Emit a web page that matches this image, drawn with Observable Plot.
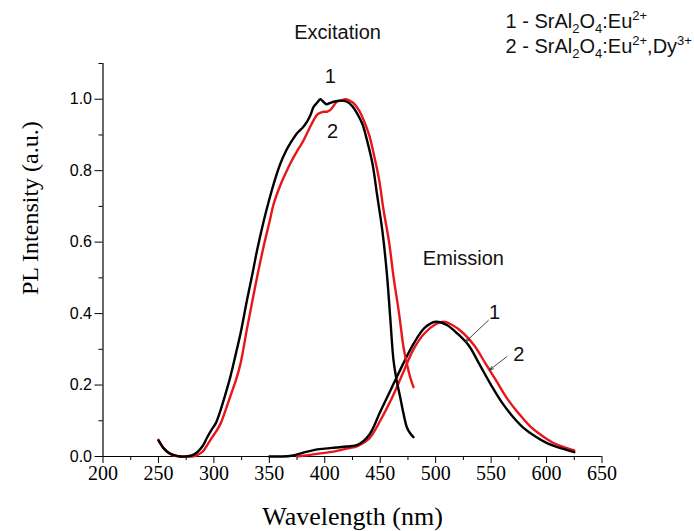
<!DOCTYPE html>
<html>
<head>
<meta charset="utf-8">
<script src="https://cdn.jsdelivr.net/npm/d3@7"></script>
<script src="https://cdn.jsdelivr.net/npm/@observablehq/plot@0.6"></script>
<style>
  html, body { margin: 0; padding: 0; background: #fff; }
</style>
</head>
<body>
<div id="chart"></div>
<script>
// ---- Data ----
const excWl1 = [250,255,260,265,270,275,280,285,290,294,298,301.5,305,310,315,320,324,330,335,339,345,350,354,360,365,369,375,380,384,387,390,393,396,398,401.5,405,408,414,420,425,429,434,438,443,447,452,456,459,462,465,468,471,474,477,480];
const excI1  = [0.045,0.022,0.009,0.003,0.0,0.0,0.003,0.012,0.03,0.054,0.075,0.092,0.12,0.17,0.225,0.29,0.344,0.44,0.515,0.578,0.66,0.72,0.764,0.82,0.855,0.877,0.905,0.92,0.937,0.955,0.979,0.99,1.0,0.995,0.986,0.99,0.993,0.996,0.993,0.98,0.961,0.93,0.886,0.82,0.736,0.63,0.512,0.39,0.269,0.21,0.166,0.12,0.082,0.065,0.054];

const excWl2 = [250,255,260,265,270,275,280,285,290,294,298.5,302,306,310,315,320,324,330,335,339,345,350,354,360,365,369,375,380,384,388,393,396,399,402,405,408,411,415,418.6,422,426,431,435,440,444,449,453,458,462,467,471,474,477,480];
const excI2  = [0.047,0.022,0.008,0.002,0.0,0.0,0.0,0.004,0.014,0.032,0.054,0.07,0.092,0.125,0.17,0.215,0.26,0.36,0.44,0.503,0.59,0.655,0.708,0.76,0.795,0.821,0.855,0.88,0.905,0.93,0.956,0.962,0.965,0.965,0.97,0.982,0.993,0.997,1.0,0.997,0.989,0.968,0.942,0.9,0.849,0.775,0.69,0.6,0.503,0.4,0.306,0.26,0.222,0.194];

const emWl1 = [350,360,370,380,390,400,410,420,430,440,450,460,470,480,490,500,510,520,530,540,550,560,570,580,590,600,610,625];
const emI1  = [0.0,0.0,0.002,0.01,0.018,0.022,0.025,0.028,0.033,0.06,0.125,0.19,0.255,0.315,0.36,0.377,0.368,0.343,0.31,0.255,0.2,0.15,0.11,0.078,0.056,0.038,0.026,0.012];

const emWl2 = [375,385,400,410,420,430,440,450,460,470,480,490,500,507,515,525,535,545,555,565,575,585,595,605,615,625];
const emI2  = [0.0,0.004,0.01,0.015,0.022,0.03,0.05,0.1,0.16,0.23,0.3,0.345,0.37,0.377,0.368,0.345,0.31,0.26,0.21,0.16,0.12,0.085,0.06,0.04,0.027,0.017];

const xMajorTicks = [200,250,300,350,400,450,500,550,600,650];
const xMinorTicks = [225,275,325,375,425,475,525,575,625];
const yMajorTicks = [0.0,0.2,0.4,0.6,0.8,1.0];
const yMinorTicks = [0.1,0.3,0.5,0.7,0.9,1.1];

const legendLines = ["1 - SrAl_{2}O_{4}:Eu^{2+}", "2 - SrAl_{2}O_{4}:Eu^{2+},Dy^{3+}"];
const labels = [
  {text: "Excitation", x: 411.5, y: 1.186},
  {text: "Emission",   x: 525, y: 0.555},
  {text: "1",          x: 405, y: 1.063},
  {text: "2",          x: 407, y: 0.91},
  {text: "1",          x: 553, y: 0.402},
  {text: "2",          x: 575, y: 0.284}
];
const arrows = [
  {x1: 547.5, y1: 0.381, x2: 527, y2: 0.321},
  {x1: 564, y1: 0.279, x2: 548.5, y2: 0.242}
];

// ---- Build tables ----
const toRows = (wl, v, series) => wl.map((w, i) => ({wl: w, v: v[i], series}));
const exc1 = toRows(excWl1, excI1, "1");
const exc2 = toRows(excWl2, excI2, "2");
const em1 = toRows(emWl1, emI1, "1");
const em2 = toRows(emWl2, emI2, "2");

const plain = s => s.replace(/[_^]\{([^}]*)\}/g, "$1");
const legendRows = legendLines.map((s, i) => ({raw: s, text: plain(s), x: 563, y: i === 0 ? 1.218 : 1.148}));

const RED = "#e8161b";
const SANS = "'Liberation Sans', Arial, sans-serif";
const SERIF = "'Liberation Serif', 'Times New Roman', serif";

const chart = Plot.plot({
  width: 694,
  height: 531,
  marginLeft: 102.5,
  marginRight: 92.5,
  marginTop: 63,
  marginBottom: 75,
  x: {domain: [200, 650], axis: null},
  y: {domain: [0, 1.1], axis: null},
  marks: [
    // minor ticks
    Plot.axisX({ticks: xMinorTicks, tickSize: 4, text: null, stroke: "#000", strokeWidth: 1}),
    Plot.axisY({ticks: yMinorTicks, tickSize: 4, text: null, stroke: "#000", strokeWidth: 1}),
    // major ticks with labels
    Plot.axisX({ticks: xMajorTicks, tickSize: 7, tickPadding: 2, label: null, fontSize: 20, fontFamily: SERIF, fill: "#000", stroke: "#000", strokeWidth: 1}),
    Plot.axisY({ticks: yMajorTicks, tickSize: 8, tickPadding: 3, tickFormat: d3.format(".1f"), label: null, fontSize: 16, fontFamily: SANS, fill: "#000", stroke: "#000", strokeWidth: 1}),
    // axis lines
    Plot.ruleY([0], {stroke: "#000", strokeWidth: 1.2}),
    Plot.ruleX([200], {stroke: "#000", strokeWidth: 1.2}),
    // curves
    Plot.line(em2, {x: "wl", y: "v", stroke: RED, strokeWidth: 2.4, curve: "catmull-rom"}),
    Plot.line(em1, {x: "wl", y: "v", stroke: "#000", strokeWidth: 2.4, curve: "catmull-rom"}),
    Plot.line(exc2, {x: "wl", y: "v", stroke: RED, strokeWidth: 2.4, curve: "catmull-rom"}),
    Plot.line(exc1, {x: "wl", y: "v", stroke: "#000", strokeWidth: 2.4, curve: "catmull-rom"}),
    // arrows
    Plot.arrow(arrows, {x1: "x1", y1: "y1", x2: "x2", y2: "y2", stroke: "#333", strokeWidth: 0.9, headLength: 7, headAngle: 40}),
    // labels
    Plot.text(labels, {x: "x", y: "y", text: "text", fontSize: 20, fontFamily: SANS, fill: "#111", lineAnchor: "middle"}),
    Plot.text(legendRows, {x: "x", y: "y", text: "text", textAnchor: "start", fontSize: 20, fontFamily: SANS, fill: "#111", lineAnchor: "middle"}),
    // axis titles
    Plot.text(["Wavelength (nm)"], {frameAnchor: "bottom", dy: 60, fontSize: 26, fontFamily: SERIF, fill: "#000", lineAnchor: "middle"}),
    Plot.text(["PL Intensity (a.u.)"], {frameAnchor: "left", dx: -73, dy: 35, rotate: -90, fontSize: 24, fontFamily: SERIF, fill: "#000", lineAnchor: "middle"})
  ]
});

document.getElementById("chart").appendChild(chart);

// ---- Rich text for the legend (sub/superscripts) ----
const svg = d3.select(chart);
svg.selectAll("text").each(function() {
  const el = this;
  const row = legendRows.find(r => r.text === el.textContent);
  if (!row) return;
  el.textContent = "";
  const parts = row.raw.split(/([_^]\{[^}]*\})/).filter(s => s.length);
  let shift = 0;
  for (const p of parts) {
    const ts = document.createElementNS("http://www.w3.org/2000/svg", "tspan");
    let target = 0;
    if (p.startsWith("_{")) { target = 5; ts.setAttribute("font-size", "13"); ts.textContent = p.slice(2, -1); }
    else if (p.startsWith("^{")) { target = -8; ts.setAttribute("font-size", "13"); ts.textContent = p.slice(2, -1); }
    else { ts.textContent = p; }
    const dy = target - shift;
    if (dy !== 0) ts.setAttribute("dy", dy);
    shift = target;
    el.appendChild(ts);
  }
});
</script>
</body>
</html>
